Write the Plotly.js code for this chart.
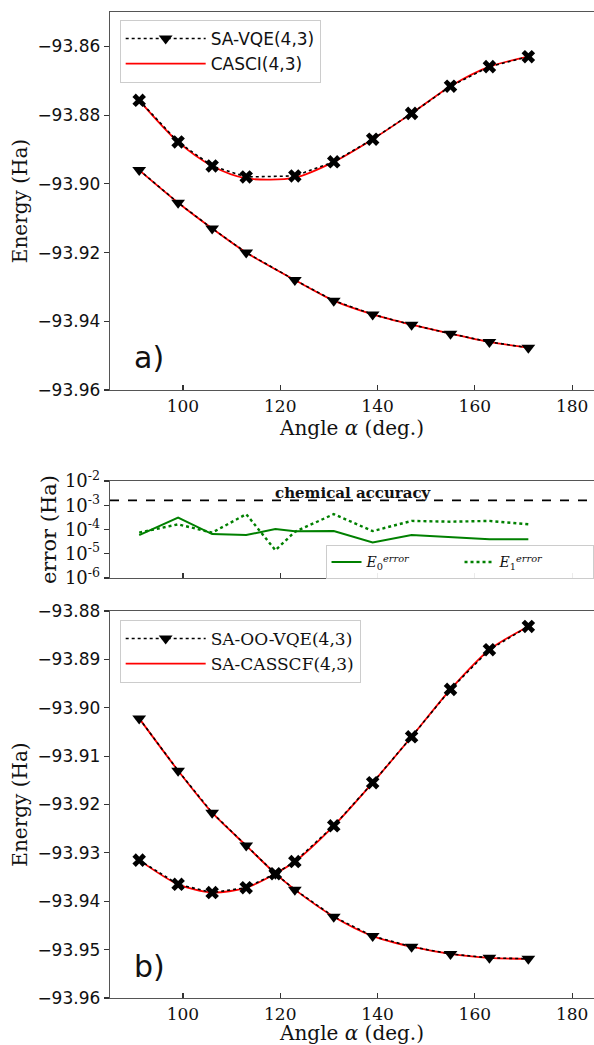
<!DOCTYPE html>
<html>
<head>
<meta charset="utf-8">
<script src="https://cdn.plot.ly/plotly-3.0.1.min.js"></script>
<style>html,body{margin:0;padding:0;background:#fff;}#chart{width:594px;height:1045px;}</style>
</head>
<body>
<div id="chart"></div>
<script>
// ---- data ----
const anglesA = [91, 99, 106, 113, 123, 131, 139, 147, 155, 163, 171];
const vqeA_S0 = [-93.8960, -93.9055, -93.9130, -93.9200, -93.9280, -93.9340, -93.9380, -93.9410, -93.9436, -93.9460, -93.9477];
const vqeA_S1 = [-93.8757, -93.8878, -93.8948, -93.8980, -93.8977, -93.8936, -93.8870, -93.8795, -93.8716, -93.8659, -93.8630];
const casciA_S0 = [-93.8960, -93.9055, -93.9130, -93.9200, -93.9280, -93.9340, -93.9380, -93.9410, -93.9436, -93.9460, -93.9477];
const casciA_S1 = [-93.8757, -93.8878, -93.8948, -93.8984, -93.8982, -93.8936, -93.8870, -93.8795, -93.8716, -93.8659, -93.8630];

const anglesB = [91, 99, 106, 113, 119, 123, 131, 139, 147, 155, 163, 171];
const ooA_S0 = [-93.9022, -93.9130, -93.9217, -93.9285, -93.9343, -93.9376, -93.9432, -93.9472, -93.9494, -93.9509, -93.9517, -93.9519];
const ooA_S1 = [-93.9315, -93.9365, -93.9382, -93.9372, -93.9343, -93.9318, -93.9244, -93.9155, -93.9060, -93.8962, -93.8880, -93.8832];
const casscf_S0 = [-93.9022, -93.9130, -93.9217, -93.9285, -93.9343, -93.9376, -93.9432, -93.9472, -93.9494, -93.9509, -93.9517, -93.9519];
const casscf_S1 = [-93.9315, -93.9365, -93.9382, -93.9372, -93.9343, -93.9318, -93.9244, -93.9155, -93.9060, -93.8962, -93.8880, -93.8832];

const err0 = [5.9e-5, 3.1e-4, 6.5e-5, 5.9e-5, 1.05e-4, 8.4e-5, 8.6e-5, 2.9e-5, 5.9e-5, 5.0e-5, 4.0e-5, 4.0e-5];
const err1 = [7.4e-5, 1.64e-4, 7.4e-5, 4.3e-4, 1.4e-5, 8.0e-5, 4.3e-4, 8.6e-5, 2.26e-4, 2.1e-4, 2.26e-4, 1.64e-4];
const CHEM_ACC = 1.6e-3;

const xTicks = [100, 120, 140, 160, 180];
const yTicksA = [-93.96, -93.94, -93.92, -93.90, -93.88, -93.86];
const yTicksB = [-93.96, -93.95, -93.94, -93.93, -93.92, -93.91, -93.90, -93.89, -93.88];
const errTickVals = [1e-6, 1e-5, 1e-4, 1e-3, 1e-2];
const errTickText = ['10<sup>-6</sup>', '10<sup>-5</sup>', '10<sup>-4</sup>', '10<sup>-3</sup>', '10<sup>-2</sup>'];

// ---- styles ----
const SERIF = 'DejaVu Serif';
const SANS = 'DejaVu Sans';
const mk = (sym) => ({symbol: sym, size: 12, color: 'black', line: {width: 0}});
const dotLine = {color: 'black', width: 1.6, dash: 'dot'};
const redLine = {color: 'red', width: 1.8, shape: 'spline', smoothing: 0.8};

const traces = [
  // top panel
  {x: anglesA, y: casciA_S0, mode: 'lines', line: redLine, name: 'CASCI(4,3)', xaxis: 'x', yaxis: 'y', legend: 'legend', legendrank: 2},
  {x: anglesA, y: casciA_S1, mode: 'lines', line: redLine, showlegend: false, xaxis: 'x', yaxis: 'y'},
  {x: anglesA, y: vqeA_S0, mode: 'lines+markers', line: dotLine, marker: mk('triangle-down'), name: 'SA-VQE(4,3)', xaxis: 'x', yaxis: 'y', legend: 'legend', legendrank: 1},
  {x: anglesA, y: vqeA_S1, mode: 'lines+markers', line: dotLine, marker: mk('x'), showlegend: false, xaxis: 'x', yaxis: 'y'},
  // middle panel
  {x: anglesB, y: err0, mode: 'lines', line: {color: '#008000', width: 2}, name: '<i>E</i><sub>0</sub><sup><i>error</i></sup>', xaxis: 'x2', yaxis: 'y2', legend: 'legend2'},
  {x: anglesB, y: err1, mode: 'lines', line: {color: '#008000', width: 2.4, dash: 'dot'}, name: '<i>E</i><sub>1</sub><sup><i>error</i></sup>', xaxis: 'x2', yaxis: 'y2', legend: 'legend2'},
  // bottom panel
  {x: anglesB, y: casscf_S0, mode: 'lines', line: redLine, name: 'SA-CASSCF(4,3)', xaxis: 'x3', yaxis: 'y3', legend: 'legend3', legendrank: 2},
  {x: anglesB, y: casscf_S1, mode: 'lines', line: redLine, showlegend: false, xaxis: 'x3', yaxis: 'y3'},
  {x: anglesB, y: ooA_S0, mode: 'lines+markers', line: dotLine, marker: mk('triangle-down'), name: 'SA-OO-VQE(4,3)', xaxis: 'x3', yaxis: 'y3', legend: 'legend3', legendrank: 1},
  {x: anglesB, y: ooA_S1, mode: 'lines+markers', line: dotLine, marker: mk('x'), showlegend: false, xaxis: 'x3', yaxis: 'y3'}
];

const xBase = {
  range: [85, 184.5], tickvals: xTicks, ticks: 'inside', ticklen: 5, tickwidth: 1.2, tickcolor: '#333',
  showline: true, linecolor: '#555', linewidth: 1.3, mirror: true, showgrid: false, zeroline: false,
  tickfont: {family: SERIF, size: 17, color: '#111'}
};
const yBase = {
  ticks: 'outside', ticklen: 5, tickwidth: 1.2, tickcolor: '#333', showline: true, linecolor: '#555', linewidth: 1.3,
  showgrid: false, zeroline: false, tickfont: {family: SANS, size: 17, color: '#111'}
};
const titleFont = {family: SERIF, size: 20, color: '#111'};

const layout = {
  width: 594, height: 1045,
  margin: {l: 110, r: 0, t: 12, b: 47, autoexpand: false},
  paper_bgcolor: 'white', plot_bgcolor: 'white',
  showlegend: true,
  xaxis: Object.assign({}, xBase, {anchor: 'y', title: {text: 'Angle <i>α</i> (deg.)', font: titleFont, standoff: 3}}),
  yaxis: Object.assign({}, yBase, {domain: [0.6166, 1], range: [-93.96, -93.85], tickvals: yTicksA, tickformat: '.2f',
    title: {text: 'Energy (Ha)', font: titleFont, standoff: 4}}),
  xaxis2: Object.assign({}, xBase, {anchor: 'y2', showticklabels: false}),
  yaxis2: Object.assign({}, yBase, {domain: [0.426, 0.5243], type: 'log', range: [-6, -2], tickvals: errTickVals, ticktext: errTickText,
    tickfont: {family: SERIF, size: 18, color: '#111'},
    title: {text: 'error (Ha)', font: {family: SERIF, size: 21, color: '#111'}, standoff: 2}}),
  xaxis3: Object.assign({}, xBase, {anchor: 'y3', title: {text: 'Angle <i>α</i> (deg.)', font: titleFont, standoff: 3}}),
  yaxis3: Object.assign({}, yBase, {domain: [0, 0.3925], range: [-93.96, -93.88], tickvals: yTicksB, tickformat: '.2f',
    title: {text: 'Energy (Ha)', font: titleFont, standoff: 4}}),
  legend: {x: 0.02, y: 0.992, xanchor: 'left', yanchor: 'top', bgcolor: 'rgba(255,255,255,0.9)', bordercolor: '#ccc', borderwidth: 1,
    font: {family: SANS, size: 17, color: '#111'}, traceorder: 'normal', itemwidth: 80},
  legend2: {x: 0.999, y: 0.459, xanchor: 'right', yanchor: 'top', orientation: 'h', entrywidth: 88, bgcolor: 'rgba(255,255,255,0.9)', bordercolor: '#ccc', borderwidth: 1,
    font: {family: SERIF, size: 14, color: '#111'}},
  legend3: {x: 0.02, y: 0.3834, xanchor: 'left', yanchor: 'top', bgcolor: 'rgba(255,255,255,0.9)', bordercolor: '#ccc', borderwidth: 1,
    font: {family: SERIF, size: 17, color: '#111'}, traceorder: 'normal', itemwidth: 80},
  shapes: [
    {type: 'line', xref: 'x2 domain', yref: 'y2', x0: 0, x1: 1, y0: CHEM_ACC, y1: CHEM_ACC, line: {color: 'black', width: 1.8, dash: 'dash'}}
  ],
  annotations: [
    {text: '<b>chemical accuracy</b>', xref: 'x2', yref: 'y2', x: 135, y: Math.log10(CHEM_ACC), yanchor: 'bottom', yshift: -4, showarrow: false,
      font: {family: SERIF, size: 15, color: '#111'}},
    {text: 'a)', xref: 'x', yref: 'y', x: 89.5, y: -93.9505, xanchor: 'left', showarrow: false, font: {family: SANS, size: 30, color: '#111'}},
    {text: 'b)', xref: 'x3', yref: 'y3', x: 89.5, y: -93.9535, xanchor: 'left', showarrow: false, font: {family: SANS, size: 30, color: '#111'}}
  ]
};

Plotly.newPlot('chart', traces, layout, {staticPlot: true, displayModeBar: false});
</script>
</body>
</html>
